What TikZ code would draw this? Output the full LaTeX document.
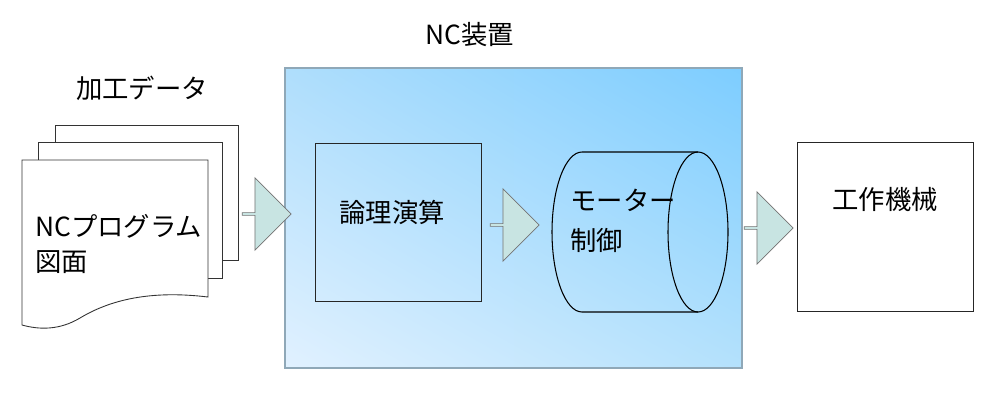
\documentclass[tikz,border=0pt]{standalone}
\usepackage{fontspec}
\setmainfont{Noto Sans CJK JP}
\usetikzlibrary{positioning,shapes.arrows,calc,shadings}
\definecolor{arrowfill}{HTML}{C8E4E2}
\definecolor{ncedge}{HTML}{8FA8B8}
\definecolor{ncur}{RGB}{125,205,255}
\definecolor{ncul}{RGB}{175,222,252}
\definecolor{nclr}{RGB}{180,225,252}
\definecolor{ncll}{RGB}{225,241,255}
\tikzset{
  sheet/.style={draw=black!80, fill=white, line width=0.5pt},
  blockbox/.style={draw=black!85, line width=0.5pt, inner sep=0pt},
  flowarrow/.style={single arrow, draw=black!55, fill=arrowfill, minimum height=0.98cm,
    minimum width=1.45cm, single arrow head extend=0.18cm, single arrow tip angle=90, inner sep=0pt},
  label/.style={font=\fontsize{15}{18}\selectfont, inner sep=0pt}
}
\begin{document}
\begin{tikzpicture}[x=0.02cm,y=-0.02cm]
  \useasboundingbox (0,0) rectangle (1000,410);
  % NC unit
  \shade[upper right=ncur, upper left=ncul, lower right=nclr, lower left=ncll] (285,68) rectangle (742,368);
  \draw[ncedge, line width=1.6pt] (285,68) rectangle (742,368);
  \node[label] (nclabel) at (470,35) {NC装置};
  % input data
  \node[label] (datalabel) at (142,88) {加工データ};
  \draw[sheet] (55,260) -- (55,125) -- (238,125) -- (238,260) -- cycle;
  \draw[sheet] (38,278) -- (38,142) -- (222,142) -- (222,278) -- cycle;
  \draw[sheet] (22,325) -- (22,160) -- (208,160) -- (208,297)
     .. controls (150,290) and (110,300) .. (80,318)
     .. controls (60,330) and (40,330) .. (22,325) -- cycle;
  \node[label, anchor=west] (prog) at (35,226) {NCプログラム};
  \node[label, anchor=west] (zumen) at (35,262) {図面};
  % logic box
  \node[blockbox, minimum width=3.32cm, minimum height=3.16cm] (logic) at (398,222) {};
  \node[label] (logictext) at (392,212) {論理演算};
  % motor control cylinder
  \draw[black, line width=0.6pt] (698,152) -- (582,152)
     arc[start angle=90, end angle=270, x radius=30, y radius=-80] -- (698,312);
  \draw[black, line width=0.6pt] (698,232) ellipse[x radius=30, y radius=80];
  \node[label, anchor=west] (motor) at (570,200) {モーター};
  \node[label, anchor=west] (ctrl) at (570,240) {制御};
  % machine tool
  \node[blockbox, minimum width=3.52cm, minimum height=3.38cm] (machine) at (885,226.5) {};
  \node[label] (machinetext) at (885,200) {工作機械};
  % flow arrows
  \node[flowarrow] (a1) at (266,214) {};
  \node[flowarrow] (a2) at (514,225) {};
  \node[flowarrow] (a3) at (768,228) {};
\end{tikzpicture}
\end{document}
